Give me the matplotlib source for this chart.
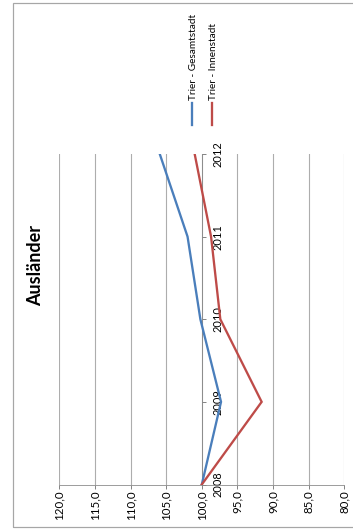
import matplotlib
matplotlib.use("Agg")
import matplotlib.pyplot as plt
from matplotlib.lines import Line2D
from matplotlib.patches import Rectangle

plt.rcParams['font.family'] = ['Lato', 'DejaVu Sans']

years = [2008, 2009, 2010, 2011, 2012]
gesamtstadt = [100.0, 97.3, 100.2, 102.0, 105.9]
innenstadt = [100.0, 91.6, 97.4, 98.7, 101.0]
series_names = ["Trier - Gesamtstadt", "Trier - Innenstadt"]
series_colors = ["#4A7EBB", "#BE4B48"]
value_ticks = [120, 115, 110, 105, 100, 95, 90, 85, 80]
value_labels = ["120,0", "115,0", "110,0", "105,0", "100,0", "95,0", "90,0", "85,0", "80,0"]
title = "Ausländer"

W, H = 353, 529
fig = plt.figure(figsize=(W / 72, H / 72), dpi=72)

# chart border
fig.add_artist(Rectangle((12.7 / W, 1 - 526.7 / H), (380 - 12.7) / W, (526.7 - 3) / H,
                         transform=fig.transFigure, fill=False, edgecolor="#A6A6A6", lw=1.2))

ax = fig.add_axes([59.3 / W, (H - 484.5) / H, (344.3 - 59.3) / W, (484.5 - 154) / H])
ax.set_facecolor("none")

for vals, col in zip([gesamtstadt, innenstadt], series_colors):
    ax.plot(vals, years, color=col, lw=2.3, solid_joinstyle="miter", zorder=3)

ax.set_xlim(120, 80)
ax.set_ylim(2008, 2012)
ax.set_xticks(value_ticks)
ax.set_xticklabels(value_labels, rotation=90, fontsize=11.5)
ax.grid(axis="x", color="#ADADAD", lw=1.1)
ax.set_axisbelow(True)

for s in ["top", "left"]:
    ax.spines[s].set_visible(False)
ax.spines["bottom"].set_color("#868686")
ax.spines["right"].set_position(("data", 100))
ax.spines["right"].set_color("#868686")
ax.yaxis.tick_right()
ax.set_yticks(years)
ax.set_yticklabels([str(y) for y in years], rotation=90, fontsize=11, va="center")
ax.tick_params(axis="x", direction="out", length=4, width=1, color="#868686", pad=1.5)
ax.tick_params(axis="y", direction="out", length=4, width=1, color="#868686", pad=7)

fig.text(36 / W, 1 - 266 / H, title, rotation=90, fontsize=18, fontweight="bold",
         ha="center", va="center")

# legend (rotated)
for name, col, lx, tx, in zip(series_names, series_colors, [191.7, 211.7], [193, 213]):
    fig.add_artist(Line2D([lx / W, lx / W], [1 - 125 / H, 1 - 103 / H],
                          transform=fig.transFigure, color=col, lw=2.3))
    fig.text(tx / W, 1 - 100 / H, name, rotation=90, fontsize=10, ha="center", va="bottom")

fig.savefig("out.png", dpi=72)
